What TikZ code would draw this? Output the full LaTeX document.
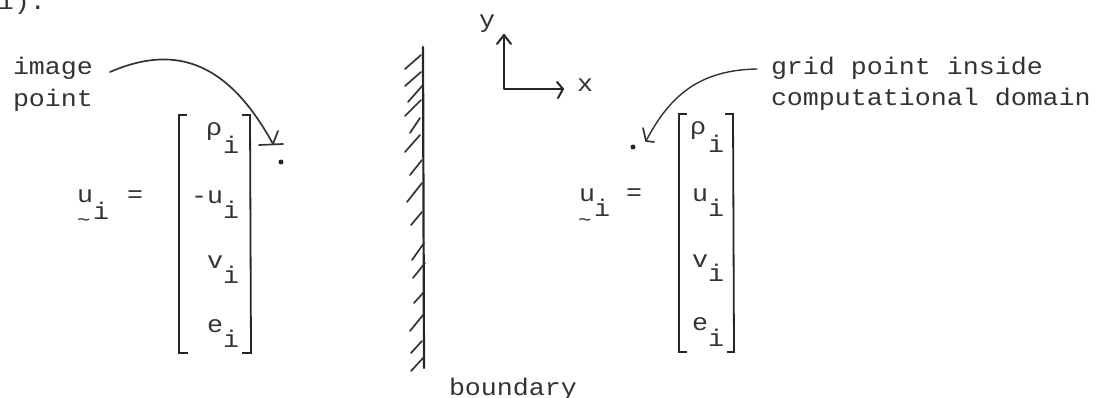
\documentclass[tikz,border=0pt]{standalone}
\usepackage{fontspec}
\setmainfont[FakeStretch=1.11]{Liberation Mono}
\tikzset{
  lbl/.style={anchor=base west,inner sep=0pt,outer sep=0pt,text=black!80,font=\fontsize{24}{24}\selectfont},
  ink/.style={draw=black!85,line width=2pt,line cap=round,line join=round},
  pen/.style={draw=black!80,line width=1.7pt,line cap=round,line join=round},
  brk/.style={draw=black!85,line width=1.8pt,line join=miter},
  spot/.style={circle,fill=black!85,inner sep=0pt,minimum size=5pt}
}
\begin{document}
\begin{tikzpicture}[x=1pt,y=-1pt]
\useasboundingbox (0,0) rectangle (1095,398);
% cut-off text at the top
\node[lbl] (top) at (-2,10) {1).};
% labels
\node[lbl] (img) at (13,75) {image};
\node[lbl] (pnt) at (13,107) {point};
\node[lbl] (grid) at (771,75) {grid point inside};
\node[lbl] (comp) at (771,106) {computational domain};
\node[lbl] (bnd) at (449,395) {boundary};
\node[lbl] (ylab) at (479,28) {y};
\node[lbl] (xlab) at (577,92) {x};
% left vector
\node[lbl] (lu) at (77,203) {u};
\node[lbl] (li) at (93,220) {i};
\node[lbl] (lt) at (77,227) {\fontsize{20}{20}\selectfont\char`\~};
\node[lbl] (leq) at (127,203) {\fontsize{24}{24}\selectfont=};
\node[lbl] (l1) at (206,136) {ρ};
\node[lbl] (l1i) at (223,154) {i};
\node[lbl] (l2m) at (191,204) {-};
\node[lbl] (l2) at (207,204) {u};
\node[lbl] (l2i) at (223,219) {i};
\node[lbl] (l3) at (207,268) {v};
\node[lbl] (l3i) at (223,283) {i};
\node[lbl] (l4) at (207,332) {e};
\node[lbl] (l4i) at (223,347) {i};
% right vector
\node[lbl] (ru) at (579,202) {u};
\node[lbl] (ri) at (594,217) {i};
\node[lbl] (rt) at (578,226) {\fontsize{20}{20}\selectfont\char`\~};
\node[lbl] (req) at (626,201) {\fontsize{24}{24}\selectfont=};
\node[lbl] (r1) at (690,135) {ρ};
\node[lbl] (r1i) at (708,153) {i};
\node[lbl] (r2) at (692,202) {u};
\node[lbl] (r2i) at (708,217) {i};
\node[lbl] (r3) at (692,267) {v};
\node[lbl] (r3i) at (708,281) {i};
\node[lbl] (r4) at (692,330) {e};
\node[lbl] (r4i) at (708,346) {i};
% brackets
\draw[brk] (187,115) -- (179,115) -- (179,353) -- (188,353);
\draw[brk] (242,115) -- (250,115) -- (251,353) -- (242,353);
\draw[brk] (687,114) -- (679,114) -- (679,352) -- (687,352);
\draw[brk] (725,114) -- (733,114) -- (734,352) -- (727,352);
% image and grid points
\node[spot] (pimg) at (281,162) {};
\node[spot] (pgrid) at (633,147) {};
% curved pointers
\coordinate (a1) at (110,72);
\coordinate (a1tip) at (273,144);
\draw[pen] (a1) .. controls (170,46) and (225,56) .. (a1tip);
\draw[pen] (259,145) -- (283,144) (a1tip) -- (278,131);
\coordinate (a2) at (757,69);
\coordinate (a2tip) at (646,141);
\draw[pen,line width=1.4pt] (a2) .. controls (700,70) and (670,95) .. (a2tip);
\draw[pen] (643,128) -- (a2tip) -- (654,142);
% axes
\coordinate (o) at (504,89);
\coordinate (ytip) at (504,35);
\coordinate (xtip) at (563,89);
\draw[ink] (ytip) -- (o) -- (xtip);
\draw[ink] (497,44) -- (ytip) -- (511,44);
\draw[ink] (557,82) -- (xtip) -- (558,98);
% wall
\coordinate (w1) at (423,47);
\coordinate (w2) at (424,368);
\draw[ink,line width=2.2pt] (w1) -- (w2);
\foreach \a/\b/\c/\d in {421/55/405/69,421/72/405/86,423/85/408/102,421/100/405/116,
  420/118/410/133,420/135/405/152,422/160/410/175,422/183/407/202,422/212/411/225,
  424/243/412/260,425/263/413/278,424/292/414/303,423/315/410/331,422/341/411/353,424/357/411/371}
  \draw[pen] (\a,\b) -- (\c,\d);
\end{tikzpicture}
\end{document}
